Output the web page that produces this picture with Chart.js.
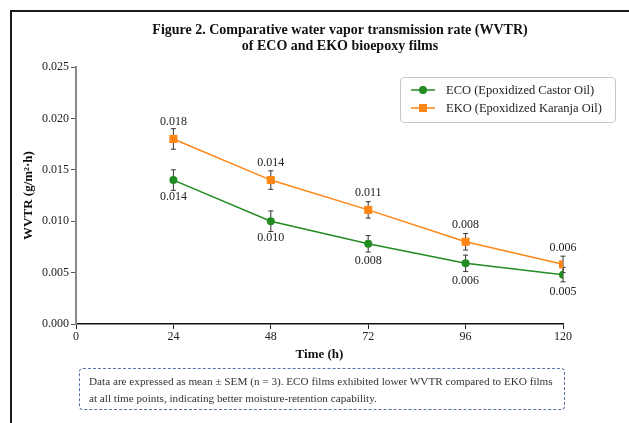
<!DOCTYPE html>
<html>
<head>
<meta charset="utf-8">
<script src="https://cdn.jsdelivr.net/npm/chart.js@4.4.1/dist/chart.umd.min.js"></script>
<style>
  html, body { margin: 0; padding: 0; background: #fff; overflow: hidden; width: 629px; height: 423px; }
  #frame { position: absolute; left: 10px; top: 10px; width: 700px; height: 500px; border: 2px solid #1a1a1a; }
  #wrap { position: absolute; left: 0; top: 0; width: 680px; height: 423px; }
  #note {
    position: absolute; left: 79px; top: 368px; width: 466px; height: 31px;
    padding: 4px 9px 5px 9px;
    border: 1px dashed #5b6ea8; border-radius: 4px;
    font-family: "Liberation Serif", "DejaVu Serif", serif; font-size: 11.2px; line-height: 17px; color: #333;
  }
</style>
</head>
<body>
<div id="frame"></div>
<div id="wrap"><canvas id="myChart" width="680" height="423"></canvas></div>
<div id="note">Data are expressed as mean ± SEM (n = 3). ECO films exhibited lower WVTR compared to EKO films<br>at all time points, indicating better moisture-retention capability.</div>
<script>
// time points (h)
var times = [24, 48, 72, 96, 120];
var ecoValues = [0.0140, 0.0100, 0.0078, 0.0059, 0.0048];
var ekoValues = [0.0180, 0.0140, 0.0111, 0.0080, 0.0058];
var ecoErrors = [0.0010, 0.0010, 0.0008, 0.0008, 0.0007];
var ekoErrors = [0.0010, 0.0009, 0.0008, 0.0008, 0.0008];
var xTicks = [0, 24, 48, 72, 96, 120];
var yTicks = [0, 0.005, 0.010, 0.015, 0.020, 0.025];
var seriesNames = ["ECO (Epoxidized Castor Oil)", "EKO (Epoxidized Karanja Oil)"];
var titleLines = ["Figure 2. Comparative water vapor transmission rate (WVTR)", "of ECO and EKO bioepoxy films"];

var serif = "'Liberation Serif', 'DejaVu Serif', serif";
var ecoColor = "#228b22";
var ekoColor = "#ff8514";

function toPoints(values) {
	return values.map(function (v, i) {
		return { x: times[i], y: v };
	});
}

// title centred on the whole figure, not on the plot
const figTitle = {
	id: "figTitle",
	afterDraw(chart) {
		const ctx = chart.ctx;
		ctx.save();
		ctx.font = "bold 14px " + serif;
		ctx.fillStyle = "#111";
		ctx.textAlign = "center";
		ctx.textBaseline = "middle";
		titleLines.forEach(function (t, i) {
			ctx.fillText(t, chart.width / 2, 30 + i * 16);
		});
		ctx.restore();
	},
};

// error bars (mean +/- SEM)
const errorBars = {
	id: "errorBars",
	beforeDatasetsDraw(chart) {
		const ctx = chart.ctx;
		const xs = chart.scales.x, ys = chart.scales.y;
		const errs = [ecoErrors, ekoErrors];
		ctx.save();
		ctx.strokeStyle = "#333";
		ctx.lineWidth = 1;
		chart.data.datasets.forEach(function (ds, d) {
			ds.data.forEach(function (p, i) {
				const x = xs.getPixelForValue(p.x);
				const y1 = ys.getPixelForValue(p.y + errs[d][i]);
				const y2 = ys.getPixelForValue(p.y - errs[d][i]);
				ctx.beginPath();
				ctx.moveTo(x, y1); ctx.lineTo(x, y2);
				ctx.moveTo(x - 2.5, y1); ctx.lineTo(x + 2.5, y1);
				ctx.moveTo(x - 2.5, y2); ctx.lineTo(x + 2.5, y2);
				ctx.stroke();
			});
		});
		ctx.restore();
	},
};

// value labels: ECO below, EKO above
const valueLabels = {
	id: "valueLabels",
	afterDatasetsDraw(chart) {
		const ctx = chart.ctx;
		ctx.save();
		ctx.font = "12px " + serif;
		ctx.fillStyle = "#222";
		ctx.textAlign = "center";
		ctx.textBaseline = "middle";
		chart.data.datasets.forEach(function (ds, d) {
			const meta = chart.getDatasetMeta(d);
			meta.data.forEach(function (el, i) {
				const off = d === 0 ? 17 : -17;
				ctx.fillText(ds.data[i].y.toFixed(3), el.x, el.y + off);
			});
		});
		ctx.restore();
	},
};

// legend with line through marker
const boxLegend = {
	id: "boxLegend",
	afterDraw(chart) {
		const ctx = chart.ctx;
		const a = chart.chartArea;
		const left = a.right - 163, top = a.top + 10, w = 215, h = 45;
		ctx.save();
		ctx.fillStyle = "rgba(255,255,255,0.9)";
		ctx.strokeStyle = "#c4c4c4";
		ctx.lineWidth = 1;
		ctx.beginPath();
		ctx.roundRect(left + 0.5, top + 0.5, w, h, 4);
		ctx.fill();
		ctx.stroke();
		ctx.font = "12.5px " + serif;
		ctx.textBaseline = "middle";
		ctx.textAlign = "left";
		chart.data.datasets.forEach(function (ds, d) {
			const y = top + 13 + d * 18;
			const lx = left + 11;
			ctx.strokeStyle = ds.borderColor;
			ctx.lineWidth = 1.5;
			ctx.beginPath();
			ctx.moveTo(lx, y); ctx.lineTo(lx + 24, y);
			ctx.stroke();
			ctx.fillStyle = ds.borderColor;
			if (d === 0) {
				ctx.beginPath();
				ctx.arc(lx + 12, y, 4, 0, Math.PI * 2);
				ctx.fill();
			} else {
				ctx.fillRect(lx + 8, y - 4, 8, 8);
			}
			ctx.fillStyle = "#222";
			ctx.fillText(seriesNames[d], lx + 35, y + 0.5);
		});
		ctx.restore();
	},
};

const data = {
	datasets: [
		{
			label: seriesNames[0],
			data: toPoints(ecoValues),
			borderColor: ecoColor,
			backgroundColor: ecoColor,
			borderWidth: 1.5,
			pointStyle: "circle",
			pointRadius: 4,
			pointBorderWidth: 0,
		},
		{
			label: seriesNames[1],
			data: toPoints(ekoValues),
			borderColor: ekoColor,
			backgroundColor: ekoColor,
			borderWidth: 1.5,
			pointStyle: "rect",
			pointRadius: 5.7,
			pointBorderWidth: 0,
		},
	],
};

const config = {
	type: "line",
	data: data,
	options: {
		responsive: false,
		animation: false,
		devicePixelRatio: 1,
		layout: { padding: { left: 0, right: 117, top: 67, bottom: 59 } },
		plugins: {
			legend: { display: false },
			tooltip: { enabled: false },
			title: { display: false },
		},
		scales: {
			x: {
				type: "linear",
				min: 0,
				max: 120,
				afterBuildTicks: function (scale) {
					scale.ticks = xTicks.map(function (v) { return { value: v }; });
				},
				afterFit: function (scale) { scale.height = 40; },
				grid: { drawOnChartArea: false, drawTicks: true, tickLength: 5, color: "#222" },
				border: { display: true, color: "#111", width: 1.5 },
				ticks: { color: "#222", font: { family: serif, size: 12 }, padding: 1, maxRotation: 0 },
				title: {
					display: true,
					text: "Time (h)",
					color: "#111",
					font: { family: serif, size: 13, weight: "bold" },
					padding: { top: 0, bottom: 2 },
				},
			},
			y: {
				min: 0,
				max: 0.025,
				afterBuildTicks: function (scale) {
					scale.ticks = yTicks.map(function (v) { return { value: v }; });
				},
				afterFit: function (scale) { scale.width = 76; },
				grid: { drawOnChartArea: false, drawTicks: true, tickLength: 5, color: "#555" },
				border: { display: true, color: "#8a8a8a", width: 2 },
				ticks: {
					color: "#222",
					font: { family: serif, size: 12 },
					padding: 2,
					callback: function (v) { return Number(v).toFixed(3); },
				},
				title: {
					display: true,
					text: "WVTR (g/m²·h)",
					color: "#111",
					font: { family: serif, size: 13, weight: "bold" },
					padding: { top: 21, bottom: 0 },
				},
			},
		},
	},
	plugins: [errorBars, valueLabels, boxLegend, figTitle],
};

const myChart = new Chart(document.getElementById("myChart"), config);
</script>
</body>
</html>
